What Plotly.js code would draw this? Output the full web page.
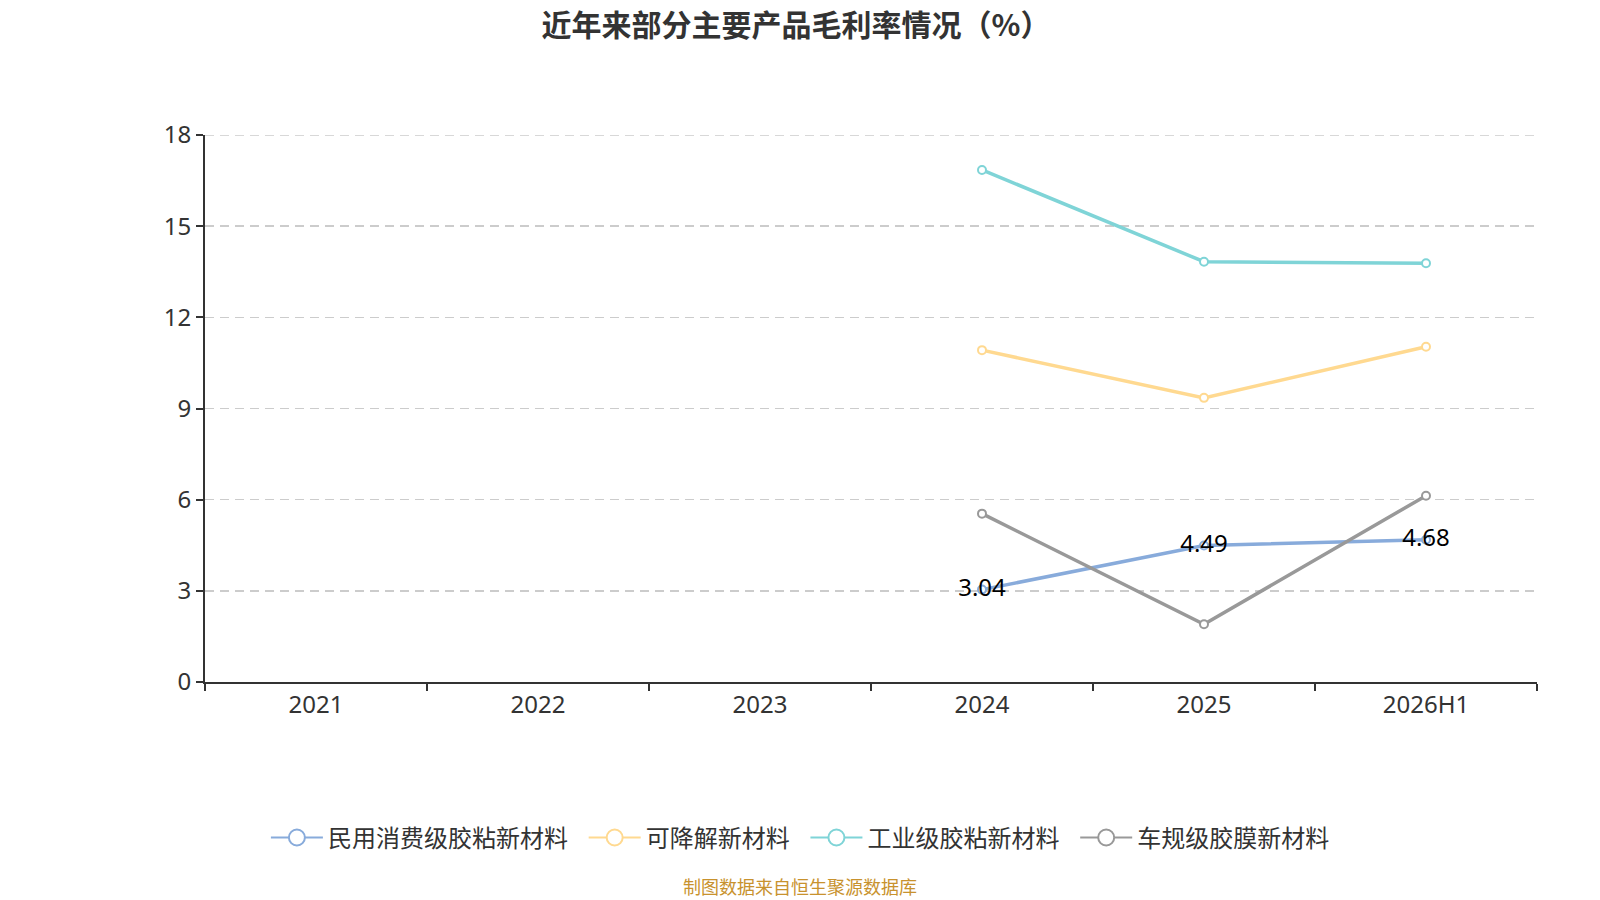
<!DOCTYPE html>
<html>
<head>
<meta charset="utf-8">
<script src="https://cdn.plot.ly/plotly-3.0.1.min.js"></script>
<style>
  body { margin: 0; background: #fff; }
  #chart { width: 1600px; height: 900px; }
</style>
</head>
<body>
<div id="chart"></div>
<script>
var years = ['2021', '2022', '2023', '2024', '2025', '2026H1'];
var minyong = [null, null, null, 3.04, 4.49, 4.68];
var kejiangjie = [null, null, null, 10.92, 9.35, 11.03];
var gongye = [null, null, null, 16.85, 13.83, 13.78];
var chegui = [null, null, null, 5.54, 1.9, 6.13];

var names = ['民用消费级胶粘新材料', '可降解新材料', '工业级胶粘新材料', '车规级胶膜新材料'];
var colors = ['#88ABDB', '#FFD990', '#7FD4D7', '#999999'];
var series = [minyong, kejiangjie, gongye, chegui];

var font = 'Noto Sans, Noto Sans CJK SC, sans-serif';
var cjk = 'Noto Sans CJK SC, sans-serif';

var data = [];
for (var i = 0; i < series.length; i++) {
  data.push({
    x: years,
    y: series[i],
    name: names[i],
    type: 'scatter',
    mode: 'lines+markers',
    showlegend: false,
    line: { color: colors[i], width: 3.5 },
    marker: { symbol: 'circle', size: 8, color: '#fff', line: { color: colors[i], width: 2 } },
    hoverinfo: 'x+y'
  });
}

// value labels for the first series, drawn last so they sit on top
data.push({
  x: years,
  y: minyong,
  type: 'scatter',
  mode: 'text',
  showlegend: false,
  text: minyong.map(function (v) { return v === null ? '' : v.toFixed(2); }),
  textposition: 'middle center',
  textfont: { size: 24, color: '#000', family: font },
  hoverinfo: 'skip'
});

// legend entries with the big open circles
for (var j = 0; j < names.length; j++) {
  var pad = j < names.length - 1 ? '\u00a0\u00a0' : '';
  data.push({
    x: [null],
    y: [null],
    name: names[j] + pad,
    type: 'scatter',
    mode: 'lines+markers',
    line: { color: colors[j], width: 2 },
    marker: { symbol: 'circle', size: 16, color: '#fff', line: { color: colors[j], width: 2 } }
  });
}

var layout = {
  width: 1600,
  height: 900,
  paper_bgcolor: '#fff',
  plot_bgcolor: '#fff',
  font: { family: font, color: '#333' },
  margin: { l: 205, r: 63, t: 135, b: 218 },
  title: {
    text: '近年来部分主要产品毛利率情况（%）',
    font: { size: 30, color: '#333', family: cjk, weight: 'bold' },
    x: 0.4975, xref: 'container', xanchor: 'center',
    y: 0.972, yref: 'container', yanchor: 'middle'
  },
  xaxis: {
    type: 'category',
    range: [-0.5, 5.5],
    showline: true,
    linecolor: '#333',
    linewidth: 2,
    ticks: 'outside',
    tickson: 'boundaries',
    ticklen: 7,
    tickwidth: 2,
    tickcolor: '#333',
    showgrid: false,
    tickfont: { size: 24, color: '#333' },
    fixedrange: true
  },
  yaxis: {
    range: [0, 18],
    tickvals: [0, 3, 6, 9, 12, 15, 18],
    showline: true,
    linecolor: '#333',
    linewidth: 2,
    ticks: 'outside',
    ticklen: 7,
    tickwidth: 2,
    tickcolor: '#333',
    showgrid: true,
    gridcolor: '#cccccc',
    griddash: '9px,6px',
    gridwidth: 1.5,
    zeroline: false,
    tickfont: { size: 24, color: '#333' },
    fixedrange: true
  },
  shapes: [{
    // top grid line at 18, which plotly leaves out at the plot edge
    type: 'line', xref: 'paper', yref: 'y',
    x0: 0, x1: 1, y0: 18, y1: 18,
    line: { color: '#cccccc', width: 1.5, dash: '9px,6px' },
    layer: 'below'
  }],
  showlegend: true,
  legend: {
    orientation: 'h',
    x: 0.447, xanchor: 'center',
    y: -0.285, yanchor: 'middle',
    font: { size: 24, color: '#333', family: cjk },
    itemsizing: 'trace',
    itemwidth: 52
  },
  annotations: [{
    text: '制图数据来自恒生聚源数据库',
    xref: 'paper', yref: 'paper',
    x: 0.447, y: -0.373,
    xanchor: 'center', yanchor: 'middle',
    showarrow: false,
    font: { size: 18, color: '#C8922E', family: cjk }
  }]
};

Plotly.newPlot('chart', data, layout, { displayModeBar: false, staticPlot: true });
</script>
</body>
</html>
